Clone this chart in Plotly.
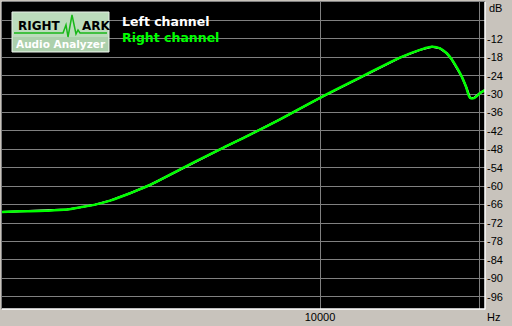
import plotly.graph_objects as go
import math

# Data
freq_hz = [2518, 2723, 3035, 3338, 3532, 3770, 4022, 4387, 4784, 5569, 6481, 7384,
           8408, 10000, 11893, 14147, 15429, 16251, 16827, 17323, 17706, 18141,
           18491, 18836, 19165, 19498, 20000, 20450]
level_db = [-68.4, -68.2, -68.0, -67.6, -66.9, -66.0, -64.7, -62.3, -59.6, -53.7,
            -48.0, -43.2, -38.2, -31.2, -24.6, -18.1, -15.6, -14.6, -15.1, -16.7,
            -18.7, -21.6, -24.3, -27.6, -31.2, -31.3, -29.7, -28.7]
y_ticks = [-96, -90, -84, -78, -72, -66, -60, -54, -48, -42, -36, -30, -24, -18, -12, -6]
y_labels = [str(v) for v in y_ticks[:-1]] + [""]
x_ticks = [10000, 20000]
x_labels = ["10000", ""]

W, H = 512, 326
L, R, T, B = 2, 485, 2, 309


def px(x):
    return (x - L) / (R - L)


def py(y):
    return 1 - (y - T) / (B - T)


fig = go.Figure()
fig.add_trace(go.Scatter(x=freq_hz, y=level_db, mode="lines",
                         line=dict(color="#ffffff", width=2), hoverinfo="skip"))
fig.add_trace(go.Scatter(x=freq_hz, y=level_db, mode="lines",
                         line=dict(color="#00ff00", width=2.5, shape="spline"), hoverinfo="skip"))

shapes = []
# frame
shapes.append(dict(type="line", xref="paper", yref="paper", x0=px(R), x1=px(R), y0=py(T), y1=py(B+0.5),
                   line=dict(color="#ffffff", width=1.5)))
shapes.append(dict(type="line", xref="paper", yref="paper", x0=px(L), x1=px(R), y0=py(B), y1=py(B),
                   line=dict(color="#ffffff", width=1.5)))
shapes.append(dict(type="line", xref="paper", yref="paper", x0=px(L-0.5), x1=px(L-0.5), y0=py(T), y1=py(B),
                   line=dict(color="#808080", width=1)))
shapes.append(dict(type="line", xref="paper", yref="paper", x0=px(L), x1=px(R), y0=py(T-0.5), y1=py(T-0.5),
                   line=dict(color="#808080", width=1)))
# logo
shapes.append(dict(type="rect", xref="paper", yref="paper", x0=px(12), x1=px(109), y0=py(52), y1=py(12),
                   fillcolor="#bcdcbc", line=dict(color="#e8f0e8", width=1)))
shapes.append(dict(type="rect", xref="paper", yref="paper", x0=px(13), x1=px(108), y0=py(51), y1=py(37),
                   fillcolor="#acd0ac", line=dict(width=0)))
wave = [(14, 33), (63, 33), (66, 25), (68, 37), (72, 15), (76, 34), (78, 30), (80, 33), (107, 33)]
path = "M " + " L ".join(f"{px(x):.5f},{py(y):.5f}" for x, y in wave)
shapes.append(dict(type="path", xref="paper", yref="paper", path=path,
                   line=dict(color="#18b818", width=1.5)))

annotations = [
    dict(x=px(16), y=py(26), xref="paper", yref="paper", text="<b>RIGHT</b>", showarrow=False,
         xanchor="left", yanchor="middle", font=dict(family="DejaVu Sans", size=12, color="#000000")),
    dict(x=px(80), y=py(26), xref="paper", yref="paper", text="<b>ARK</b>", showarrow=False,
         xanchor="left", yanchor="middle", font=dict(family="DejaVu Sans", size=12, color="#000000")),
    dict(x=px(60.5), y=py(44), xref="paper", yref="paper", text="<b>Audio Analyzer</b>", showarrow=False,
         xanchor="center", yanchor="middle", font=dict(family="DejaVu Sans", size=10.5, color="#ffffff")),
    dict(x=px(120), y=py(21), xref="paper", yref="paper", text="<b>Left channel</b>", showarrow=False,
         xanchor="left", yanchor="middle", font=dict(family="DejaVu Sans", size=12.5, color="#ffffff")),
    dict(x=px(120), y=py(37), xref="paper", yref="paper", text="<b>Right channel</b>", showarrow=False,
         xanchor="left", yanchor="middle", font=dict(family="DejaVu Sans", size=12.5, color="#00ff00")),
    dict(x=px(487), y=py(8), xref="paper", yref="paper", text="dB", showarrow=False,
         xanchor="left", yanchor="middle", font=dict(family="Liberation Sans", size=11, color="#000000")),
    dict(x=px(485), y=py(317), xref="paper", yref="paper", text="Hz", showarrow=False,
         xanchor="left", yanchor="middle", font=dict(family="Liberation Sans", size=11, color="#000000")),
]

fig.update_layout(
    width=W, height=H,
    margin=dict(l=L, r=W - R, t=T, b=H - B, pad=0),
    paper_bgcolor="#c8c3bc", plot_bgcolor="#000000",
    showlegend=False,
    shapes=shapes, annotations=annotations,
    xaxis=dict(type="log", range=[math.log10(2518), math.log10(20450)],
               tickvals=x_ticks, ticktext=x_labels, showgrid=True, gridcolor="#808080", gridwidth=1,
               zeroline=False, showline=False, ticks="", ticklen=0,
               tickfont=dict(family="Liberation Sans", size=11, color="#000000")),
    yaxis=dict(range=[-100, 0], side="right", tickvals=y_ticks, ticktext=y_labels,
               showgrid=True, gridcolor="#808080", gridwidth=1, zeroline=False, showline=False,
               ticks="", ticklen=0, ticklabelstandoff=1,
               tickfont=dict(family="Liberation Sans", size=11, color="#000000")),
)

fig.write_html("out.html")
